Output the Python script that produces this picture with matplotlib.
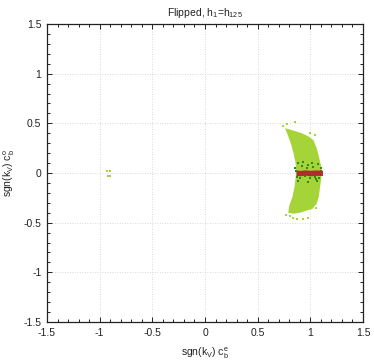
import numpy as np
import matplotlib
matplotlib.use('Agg')
import matplotlib.pyplot as plt

plt.rcParams['font.family'] = ['Liberation Sans', 'DejaVu Sans']
plt.rcParams['mathtext.default'] = 'regular'

# outline of the light green cloud
cloud_x = [0.76, 0.80, 0.86, 0.92, 0.98, 1.03, 1.06, 1.08, 1.10, 1.11, 1.10, 1.09, 1.08,
           1.06, 1.02, 0.96, 0.90, 0.84, 0.79, 0.80, 0.83, 0.85, 0.86, 0.865, 0.86, 0.84,
           0.82, 0.79]
cloud_y = [0.45, 0.44, 0.42, 0.40, 0.37, 0.33, 0.25, 0.17, 0.08, 0.0, -0.08, -0.16, -0.24,
           -0.31, -0.36, -0.38, -0.40, -0.41, -0.40, -0.33, -0.24, -0.14, -0.05, 0.03, 0.10,
           0.20, 0.28, 0.37]

# loose light green points
stray_x = [0.85, 0.74, 0.78, 0.84, 0.87, 0.93, 0.98, 0.81, 1.04, 1.00, 0.77, 1.05,
           -0.93, -0.90, -0.92, -0.90]
stray_y = [0.51, 0.47, 0.49, -0.45, -0.46, -0.46, -0.45, -0.43, 0.38, 0.40, -0.42, -0.35,
           0.02, 0.02, -0.03, -0.035]

# dark green points
dark_x = [0.886, 0.934, 0.981, 1.029, 1.076, 0.855, 0.966, 1.100, 0.871, 0.902, 0.950,
          0.997, 1.045, 1.086, 0.886, 0.981, 1.060, 0.860, 1.100, 1.013, 0.92, 1.05]
dark_y = [0.098, 0.108, 0.081, 0.064, 0.087, 0.054, 0.054, 0.054, -0.037, -0.054, -0.027,
          -0.047, -0.037, -0.054, -0.081, -0.087, -0.081, 0.02, 0.02, 0.098, 0.07, -0.06]

# red band
red_x = [0.865, 0.90, 0.95, 1.00, 1.05, 1.115]
red_lo = [-0.025, -0.028, -0.022, -0.028, -0.024, -0.025]
red_hi = [0.030, 0.026, 0.032, 0.027, 0.031, 0.028]

light = '#a5d438'
dark = '#2f8a14'
red = '#ad2f2c'

fig = plt.figure(figsize=(3.74, 3.61), dpi=100)
ax = fig.add_axes([0.1257, 0.108, 0.8449, 0.8255])

ax.fill(cloud_x, cloud_y, color=light, lw=0, zorder=2)
ax.scatter(stray_x, stray_y, s=3, marker='s', color=light, lw=0, zorder=2)
ax.scatter(dark_x, dark_y, s=4, marker='s', color=dark, lw=0, zorder=3)
ax.fill_between(red_x, red_lo, red_hi, color=red, lw=0, zorder=4)

ax.set_xlim(-1.5, 1.5)
ax.set_ylim(-1.5, 1.5)
ax.set_xticks(np.arange(-1.5, 1.51, 0.5))
ax.set_yticks(np.arange(-1.5, 1.51, 0.5))
ax.set_xticklabels(['-1.5', '-1', '-0.5', '0', '0.5', '1', '1.5'])
ax.set_yticklabels(['-1.5', '-1', '-0.5', '0', '0.5', '1', '1.5'])
ax.set_xticks(np.arange(-1.5, 1.51, 0.1), minor=True)
ax.set_yticks(np.arange(-1.5, 1.51, 0.1), minor=True)
ax.tick_params(which='both', direction='in', top=True, right=True, labelsize=7.5,
               colors='#222222', width=0.7)
ax.tick_params(which='major', length=3.5, pad=4)
ax.tick_params(which='minor', length=2)
ax.grid(True, which='major', color='#cccccc', lw=0.6, linestyle=(0, (1, 2)))
for s in ax.spines.values():
    s.set_linewidth(0.9)
    s.set_color('#222222')

ax.set_title('Flipped, h$_1$=h$_{125}$', fontsize=7.5, pad=6, color='#222222')
ax.set_xlabel('sgn(k$_V$) c$^e_b$', fontsize=7.5, labelpad=6, color='#222222')
ax.set_ylabel('sgn(k$_V$) c$^o_b$', fontsize=7.5, color='#222222')
ax.yaxis.set_label_coords(-0.095, 0.5)

fig.savefig('out.png', dpi=100)
